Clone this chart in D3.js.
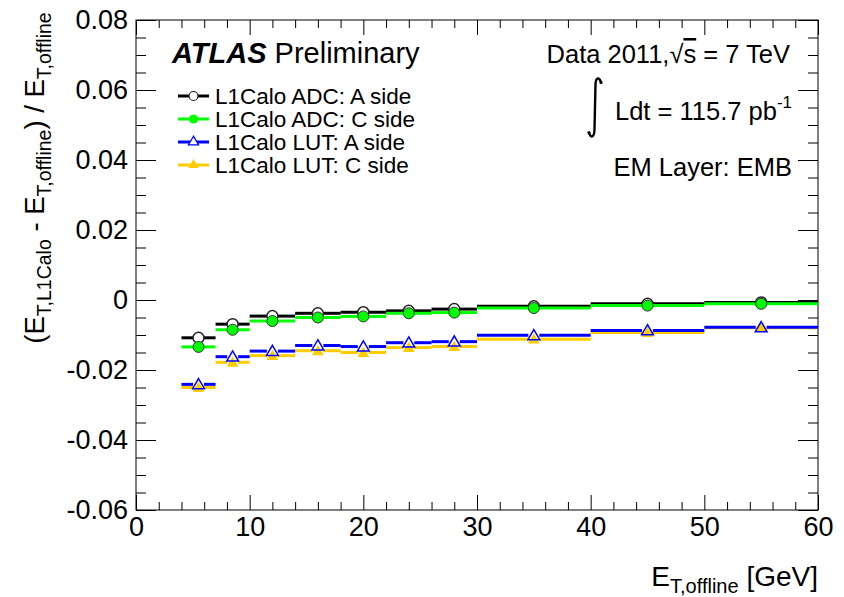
<!DOCTYPE html>
<html>
<head>
<meta charset="utf-8">
<script src="https://cdn.jsdelivr.net/npm/d3@7"></script>
<style>
  body { margin: 0; background: #fff; }
  text { font-family: "Liberation Sans", Arial, Helvetica, sans-serif; }
</style>
</head>
<body>
<div id="chart"></div>
<script>
// bin edges in E_T,offline [GeV]
const binEdges = [4, 7, 10, 14, 18, 22, 26, 30, 40, 50, 60];

// relative difference per bin
const adcA = [-0.0108, -0.0069, -0.0046, -0.0038, -0.0035, -0.0031, -0.0026, -0.0018, -0.0011, -0.0007];
const adcC = [-0.0134, -0.0085, -0.0060, -0.0050, -0.0047, -0.0038, -0.0036, -0.0023, -0.0016, -0.0011];
const lutA = [-0.0241, -0.0162, -0.0146, -0.0130, -0.0133, -0.0122, -0.0119, -0.0101, -0.0087, -0.0078];
const lutC = [-0.0250, -0.0178, -0.0159, -0.0145, -0.0150, -0.0136, -0.0133, -0.0112, -0.0093, -0.0079];

const xTicks = [0, 10, 20, 30, 40, 50, 60];
const yTicks = [-0.06, -0.04, -0.02, 0, 0.02, 0.04, 0.06, 0.08];

const legendLabels = ['L1Calo ADC: A side', 'L1Calo ADC: C side', 'L1Calo LUT: A side', 'L1Calo LUT: C side'];

const width = 844, height = 597;
const margin = { left: 136, right: 26, top: 20, bottom: 87 };

const svg = d3.select('#chart').append('svg')
    .attr('width', width)
    .attr('height', height);

const x = d3.scaleLinear().domain([0, 60]).range([margin.left, width - margin.right]);
const y = d3.scaleLinear().domain([-0.06, 0.08]).range([height - margin.bottom, margin.top]);

const x0 = x.range()[0], x1 = x.range()[1];
const yb = y.range()[0], yt = y.range()[1];

// minor tick positions
const xMinor = d3.range(0, 61, 2).filter(v => v % 10 !== 0);
const yMinor = d3.range(-60, 81, 5).filter(v => v % 20 !== 0).map(v => v / 1000);

const fmtY = d => d === 0 ? '0' : d.toFixed(2);

// --- axes (ticks pointing inward, mirrored on top/right) ---
const axisStyle = g => {
    g.select('.domain').remove();
    g.selectAll('line').attr('stroke', '#000').attr('stroke-width', 1);
    g.selectAll('text').attr('fill', '#000').attr('font-size', '27px')
        .style('font-family', '"Liberation Sans", Arial, sans-serif');
};

svg.append('g').attr('transform', `translate(0,${yb})`)
    .call(d3.axisBottom(x).tickValues(xTicks).tickSize(-15).tickPadding(7).tickFormat(d3.format('d')))
    .call(axisStyle);
svg.append('g').attr('transform', `translate(0,${yb})`)
    .call(d3.axisBottom(x).tickValues(xMinor).tickSize(-8).tickFormat(''))
    .call(axisStyle);
svg.append('g').attr('transform', `translate(0,${yt})`)
    .call(d3.axisTop(x).tickValues(xTicks).tickSize(-15).tickFormat(''))
    .call(axisStyle);
svg.append('g').attr('transform', `translate(0,${yt})`)
    .call(d3.axisTop(x).tickValues(xMinor).tickSize(-8).tickFormat(''))
    .call(axisStyle);

svg.append('g').attr('transform', `translate(${x0},0)`)
    .call(d3.axisLeft(y).tickValues(yTicks).tickSize(-20).tickPadding(8).tickFormat(fmtY))
    .call(axisStyle);
svg.append('g').attr('transform', `translate(${x0},0)`)
    .call(d3.axisLeft(y).tickValues(yMinor).tickSize(-10).tickFormat(''))
    .call(axisStyle);
svg.append('g').attr('transform', `translate(${x1},0)`)
    .call(d3.axisRight(y).tickValues(yTicks).tickSize(-20).tickFormat(''))
    .call(axisStyle);
svg.append('g').attr('transform', `translate(${x1},0)`)
    .call(d3.axisRight(y).tickValues(yMinor).tickSize(-10).tickFormat(''))
    .call(axisStyle);

// frame
svg.append('rect')
    .attr('x', x0).attr('y', yt)
    .attr('width', x1 - x0).attr('height', yb - yt)
    .attr('fill', 'none').attr('stroke', '#000').attr('stroke-width', 1);

// --- series ---
const series = [
    { vals: adcA, color: '#000000', marker: 'circle', open: true, stroke: '#222' },
    { vals: adcC, color: '#00ff00', marker: 'circle', open: false, stroke: '#333' },
    { vals: lutC, color: '#ffcc00', marker: 'triangle', open: false, stroke: 'none' },
    { vals: lutA, color: '#0000ff', marker: 'triangle', open: true, stroke: '#3333ff' }
];

const circleR = 5.5;
const triSym = d3.symbol().type(d3.symbolTriangle).size(60);

function drawMarker(g, s, cx, cy) {
    if (s.marker === 'circle') {
        g.append('circle')
            .attr('cx', cx).attr('cy', cy).attr('r', circleR)
            .attr('fill', s.open ? 'none' : s.color)
            .attr('stroke', s.stroke)
            .attr('stroke-width', s.open ? 1.5 : 1);
    } else {
        g.append('path')
            .attr('d', triSym())
            .attr('transform', `translate(${cx},${cy + 1})`)
            .attr('fill', s.open ? 'none' : s.color)
            .attr('stroke', s.open ? s.color : 'none')
            .attr('stroke-width', 1.5);
    }
}

series.forEach(s => {
    const g = svg.append('g');
    s.vals.forEach((v, i) => {
        const xa = x(binEdges[i]), xb = x(binEdges[i + 1]);
        const xc = x((binEdges[i] + binEdges[i + 1]) / 2);
        const yy = y(v);
        const gap = circleR;
        g.append('line').attr('x1', xa).attr('x2', xc - gap).attr('y1', yy).attr('y2', yy)
            .attr('stroke', s.color).attr('stroke-width', 3);
        g.append('line').attr('x1', xc + gap).attr('x2', xb).attr('y1', yy).attr('y2', yy)
            .attr('stroke', s.color).attr('stroke-width', 3);
        drawMarker(g, s, xc, yy);
    });
});

// --- axis titles ---
const xt = svg.append('text')
    .attr('x', x1).attr('y', 586)
    .attr('text-anchor', 'end')
    .attr('font-size', '28px');
xt.append('tspan').text('E');
xt.append('tspan').attr('dy', 7).attr('font-size', '20px').text('T,offline');
xt.append('tspan').attr('dy', -7).text(' [GeV]');

const yl = svg.append('text')
    .attr('transform', 'translate(44,178) rotate(-90)')
    .attr('text-anchor', 'middle')
    .attr('font-size', '27.5px');
yl.append('tspan').text('(E');
yl.append('tspan').attr('dy', 7).attr('font-size', '19.5px').text('T,L1Calo');
yl.append('tspan').attr('dy', -7).text(' - E');
yl.append('tspan').attr('dy', 7).attr('font-size', '19.5px').text('T,offline');
yl.append('tspan').attr('dy', -7).text(') / E');
yl.append('tspan').attr('dy', 7).attr('font-size', '19.5px').text('T,offline');

// --- ATLAS label ---
const atl = svg.append('text').attr('x', 172).attr('y', 63).attr('font-size', '29px');
atl.append('tspan').attr('font-weight', 'bold').attr('font-style', 'italic').text('ATLAS');
atl.append('tspan').text(' Preliminary');

// --- legend ---
const legSeries = [series[0], series[1], series[3], series[2]];
legendLabels.forEach((lab, i) => {
    const base = 104 + i * 23;
    const ly = base - 8;
    const s = legSeries[i];
    const g = svg.append('g');
    g.append('line').attr('x1', 178).attr('x2', 209).attr('y1', ly).attr('y2', ly)
        .attr('stroke', s.color).attr('stroke-width', 3);
    if (s.open && s.marker === 'circle') {
        g.append('circle').attr('cx', 193.5).attr('cy', ly).attr('r', 4.5)
            .attr('fill', '#fff').attr('stroke', '#222').attr('stroke-width', 1.2);
    } else if (s.marker === 'circle') {
        g.append('circle').attr('cx', 193.5).attr('cy', ly).attr('r', 4.5)
            .attr('fill', s.color).attr('stroke', 'none');
    } else {
        g.append('path').attr('d', d3.symbol().type(d3.symbolTriangle).size(45)())
            .attr('transform', `translate(193.5,${ly})`)
            .attr('fill', s.open ? '#fff' : s.color)
            .attr('stroke', s.open ? s.color : 'none').attr('stroke-width', 1.2);
    }
    g.append('text').attr('x', 215).attr('y', base).attr('font-size', '22.5px').text(lab);
});

// --- right-hand labels ---
const dt = svg.append('text').attr('x', 790).attr('y', 63).attr('text-anchor', 'end').attr('font-size', '25.5px');
dt.append('tspan').text('Data 2011,\u221A');
dt.append('tspan').style('text-decoration', 'overline').text('s');
dt.append('tspan').text(' = 7 TeV');

// thin integral sign, like ROOT's #int
const intG = svg.append('g').attr('fill', 'none').attr('stroke', '#000');
intG.append('path')
    .attr('d', 'M601,82 C599,77 596,77 595.5,84 L594.5,130 C594,138 591,138 589,133')
    .attr('stroke-width', 2.4);
intG.append('circle').attr('cx', 601).attr('cy', 82.5).attr('r', 1.6).attr('fill', '#000').attr('stroke', 'none');
intG.append('circle').attr('cx', 589).attr('cy', 132.5).attr('r', 1.6).attr('fill', '#000').attr('stroke', 'none');

const lum = svg.append('text').attr('x', 792).attr('y', 120).attr('text-anchor', 'end').attr('font-size', '25.5px');
lum.append('tspan').text('Ldt = 115.7 pb');
lum.append('tspan').attr('dy', -12).attr('font-size', '17px').text('-1');

svg.append('text').attr('x', 792).attr('y', 176).attr('text-anchor', 'end')
    .attr('font-size', '25.5px').text('EM Layer: EMB');
</script>
</body>
</html>
